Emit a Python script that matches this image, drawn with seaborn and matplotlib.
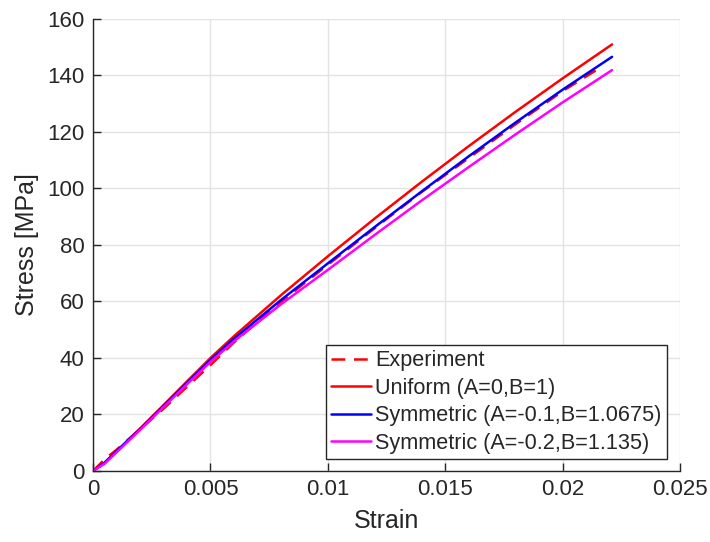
import numpy as np
import pandas as pd
import matplotlib
matplotlib.use("Agg")
import matplotlib.pyplot as plt
from matplotlib.ticker import FuncFormatter
import seaborn as sns

# strain grid shared by the three model curves
model_strain = [0, 0.0005, 0.001, 0.002, 0.003, 0.004, 0.005, 0.006, 0.008,
                0.010, 0.012, 0.014, 0.016, 0.018, 0.020, 0.0221]
uniform      = [0, 3.0, 7.0, 15.0, 23.3, 31.7, 40.0, 47.7, 62.2,
                76.0, 89.4, 102.4, 115.0, 127.2, 139.0, 151.0]
symmetric_01 = [0, 3.0, 7.0, 14.8, 23.0, 31.2, 39.3, 46.8, 60.5,
                73.5, 86.4, 99.0, 111.4, 123.4, 135.0, 146.6]
symmetric_02 = [0, 2.6, 6.6, 14.5, 22.6, 30.7, 38.6, 45.9, 59.0,
                71.2, 83.6, 95.8, 107.6, 119.2, 130.5, 141.9]

exp_strain = [0, 0.0003, 0.0005, 0.001, 0.002, 0.003, 0.004, 0.005,
              0.006, 0.007, 0.008, 0.009, 0.010, 0.012, 0.014, 0.016,
              0.018, 0.020, 0.0216]
exp_stress = [0, 2.5, 4.2, 7.5, 14.8, 22.0, 29.8, 37.5,
              45.5, 52.8, 59.8, 66.5, 73.0, 86.0, 98.8, 110.8,
              122.8, 134.5, 142.8]

labels = ["Experiment", "Uniform (A=0,B=1)",
          "Symmetric (A=-0.1,B=1.0675)", "Symmetric (A=-0.2,B=1.135)"]

sns.set_theme(style="whitegrid")
plt.rcParams["font.family"] = ["Liberation Sans", "DejaVu Sans"]

fig = plt.figure(figsize=(7.1, 5.42), dpi=100)
ax = fig.add_axes([0.131, 0.131, 0.827, 0.834])

lw = 1.8
sns.lineplot(x=exp_strain, y=exp_stress, ax=ax, color="#ff0000", lw=lw,
             label=labels[0], sort=False)
ax.lines[-1].set_dashes((5.5, 3.5))
sns.lineplot(x=model_strain, y=uniform, ax=ax, color="#ff0000", lw=lw,
             label=labels[1], sort=False)
sns.lineplot(x=model_strain, y=symmetric_01, ax=ax, color="#0000ff", lw=lw,
             label=labels[2], sort=False)
sns.lineplot(x=model_strain, y=symmetric_02, ax=ax, color="#ff00ff", lw=lw,
             label=labels[3], sort=False)

ax.set_xlim(0, 0.025)
ax.set_ylim(0, 160)
ax.set_xticks([0, 0.005, 0.01, 0.015, 0.02, 0.025])
ax.set_yticks(range(0, 161, 20))
ax.xaxis.set_major_formatter(FuncFormatter(lambda v, p: f"{v:g}"))
ax.set_xlabel("Strain", fontsize=18, color="#262626", labelpad=6)
ax.set_ylabel("Stress [MPa]", fontsize=18, color="#262626", labelpad=6)

ax.grid(True, color="#e3e3e3", lw=1)
for side in ["top", "right"]:
    ax.spines[side].set_visible(False)
for side in ["left", "bottom"]:
    ax.spines[side].set_color("#262626")
    ax.spines[side].set_linewidth(1)
ax.tick_params(direction="in", length=6, width=1, colors="#262626",
               labelsize=16, left=True, bottom=True, pad=6)

leg = ax.legend(loc="lower right", bbox_to_anchor=(0.978, 0.026),
                fontsize=15.6, frameon=True, fancybox=False,
                edgecolor="#262626", handlelength=1.85, handletextpad=0.2,
                labelspacing=0.3, borderpad=0.25, borderaxespad=0)
leg.get_frame().set_linewidth(1)
leg.get_frame().set_alpha(1)
leg.get_lines()[0].set_dashes((5.5, 3.5))

plt.savefig("out.png", dpi=100)
plt.close()
